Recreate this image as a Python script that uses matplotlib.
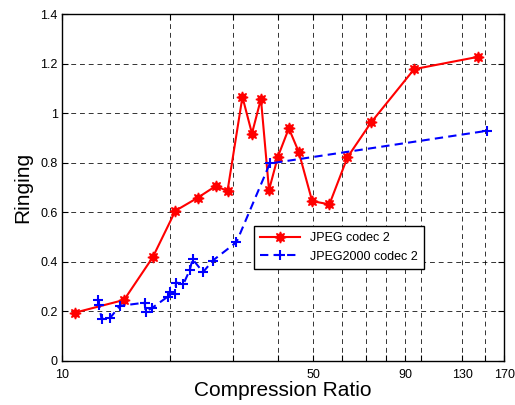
import matplotlib.pyplot as plt
from matplotlib.ticker import NullLocator

plt.rcParams['font.family'] = ['Liberation Sans', 'DejaVu Sans']

# JPEG codec 2 (red)
jpeg_ratio = [10.9, 14.9, 17.9, 20.7, 23.9, 26.8, 28.9, 31.8, 33.8, 35.8,
              37.7, 39.9, 42.8, 45.6, 49.7, 55.5, 62.3, 72.5, 95.5, 144.2]
jpeg_ringing = [0.195, 0.246, 0.418, 0.606, 0.659, 0.706, 0.686, 1.066, 0.918, 1.058,
                0.690, 0.824, 0.939, 0.844, 0.645, 0.632, 0.822, 0.963, 1.178, 1.228]

# JPEG2000 codec 2 (blue)
j2k_ratio = [12.6, 12.7, 12.9, 13.6, 14.5, 17.0, 17.1, 17.8, 19.7, 20.0,
             20.6, 20.8, 21.8, 22.7, 23.1, 24.7, 26.3, 30.6, 37.9, 152.2]
j2k_ringing = [0.246, 0.226, 0.169, 0.172, 0.222, 0.235, 0.199, 0.213, 0.259, 0.277,
               0.270, 0.316, 0.311, 0.367, 0.411, 0.358, 0.405, 0.479, 0.797, 0.929]

x_ticks = [10, 20, 30, 40, 50, 60, 70, 80, 90, 100, 130, 150, 170]
x_labels = ['10', '', '', '', '50', '', '', '', '90', '', '130', '', '170']
y_ticks = [0, 0.2, 0.4, 0.6, 0.8, 1.0, 1.2, 1.4]
y_labels = ['0', '0.2', '0.4', '0.6', '0.8', '1', '1.2', '1.4']

fig = plt.figure(figsize=(5.15, 4.05), dpi=100)
ax = fig.add_axes([0.120, 0.109, 0.859, 0.856])

ax.plot(jpeg_ratio, jpeg_ringing, color='red', linestyle='-', linewidth=1.5,
        marker=(8, 1, 0), markersize=8, markeredgewidth=1.0, label='JPEG codec 2')
ax.plot(j2k_ratio, j2k_ringing, color='blue', linestyle='--', linewidth=1.5,
        dashes=(4, 2.5), marker='+', markersize=6.5, markeredgewidth=1.5,
        label='JPEG2000 codec 2')

ax.set_xscale('log')
ax.set_xlim(10, 170)
ax.set_ylim(0, 1.4)
ax.set_xticks(x_ticks)
ax.set_xticklabels(x_labels)
ax.xaxis.set_minor_locator(NullLocator())
ax.set_yticks(y_ticks)
ax.set_yticklabels(y_labels)

ax.tick_params(direction='in', length=4, width=0.8, labelsize=9,
               top=True, right=True, pad=3)
ax.tick_params(axis='x', pad=6)
ax.grid(True, color='black', linestyle=(0, (5, 4)), linewidth=0.7, alpha=0.8)
for s in ax.spines.values():
    s.set_linewidth(1.0)

ax.set_xlabel('Compression Ratio', fontsize=15, labelpad=0)
ax.set_ylabel('Ringing', fontsize=15, labelpad=6)

leg = ax.legend(loc='lower left', bbox_to_anchor=(0.434, 0.265), fontsize=9,
                fancybox=False, edgecolor='black', framealpha=1,
                handlelength=3.2, borderpad=0.5, borderaxespad=0)
leg.get_frame().set_linewidth(1.0)

fig.savefig('out.png', dpi=100)
